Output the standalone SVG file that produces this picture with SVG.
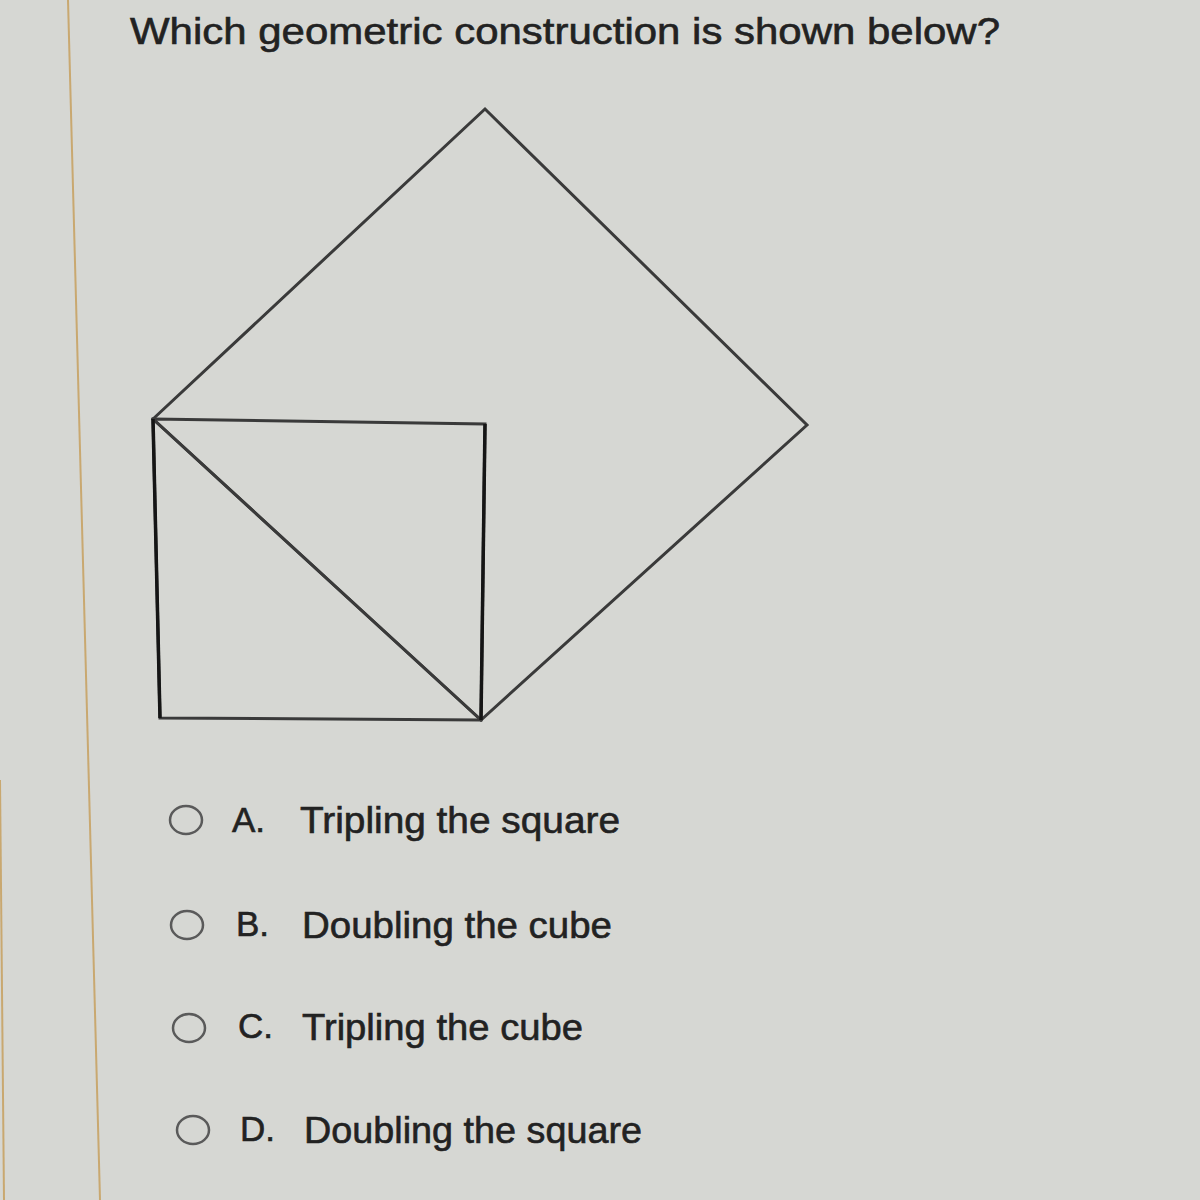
<svg xmlns="http://www.w3.org/2000/svg" width="1200" height="1200" viewBox="0 0 1200 1200">
<style>
.t{font-family:"Liberation Sans",Arial,sans-serif;fill:#222;stroke:#222;stroke-width:0.6;}
.ln{stroke:#3a3a3a;stroke-width:3;fill:none;stroke-linecap:round;}
.rb{fill:none;stroke:#5a5a5a;stroke-width:2.5;}
</style>
<rect width="1200" height="1200" fill="#d6d7d3"/>
<line x1="68" y1="0" x2="100" y2="1200" stroke="#c9a870" stroke-width="2"/>
<line x1="0" y1="780" x2="4" y2="1200" stroke="#c9a870" stroke-width="2"/>
<text class="t" x="130" y="44" font-size="37" textLength="870" lengthAdjust="spacingAndGlyphs">Which geometric construction is shown below?</text>
<g id="figure">
<polygon class="ln" points="153,419 485,109 807,425 481,720"/>
<polygon class="ln" points="153,419 485,424 481,720 160,718"/>
<line class="ln" x1="153" y1="419" x2="481" y2="720"/>
<line x1="153" y1="419" x2="160" y2="718" stroke="#151515" stroke-width="3.5"/>
<line x1="485" y1="424" x2="481" y2="720" stroke="#151515" stroke-width="3.5"/>
</g>
<g id="optA">
<ellipse class="rb" cx="186" cy="820" rx="16" ry="14"/>
<text class="t" x="232" y="832" font-size="35">A.</text>
<text class="t" x="300" y="833" font-size="37" textLength="320" lengthAdjust="spacingAndGlyphs">Tripling the square</text>
</g>
<g id="optB">
<ellipse class="rb" cx="187" cy="925" rx="16" ry="14"/>
<text class="t" x="236" y="936" font-size="35">B.</text>
<text class="t" x="302" y="938" font-size="37" textLength="310" lengthAdjust="spacingAndGlyphs">Doubling the cube</text>
</g>
<g id="optC">
<ellipse class="rb" cx="189" cy="1028" rx="16" ry="14"/>
<text class="t" x="238" y="1038" font-size="35">C.</text>
<text class="t" x="302" y="1040" font-size="37" textLength="281" lengthAdjust="spacingAndGlyphs">Tripling the cube</text>
</g>
<g id="optD">
<ellipse class="rb" cx="193" cy="1130" rx="16" ry="14"/>
<text class="t" x="240" y="1141" font-size="35">D.</text>
<text class="t" x="304" y="1143" font-size="37" textLength="338" lengthAdjust="spacingAndGlyphs">Doubling the square</text>
</g>
</svg>
